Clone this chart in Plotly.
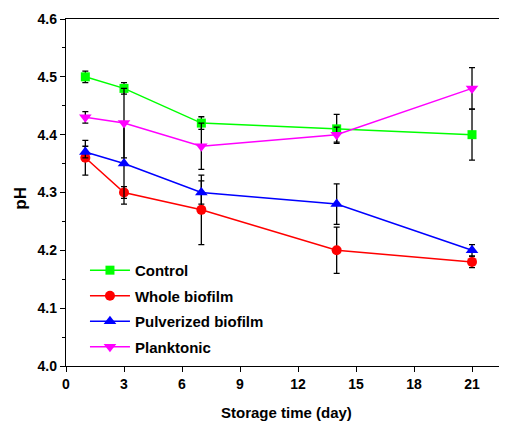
import plotly.graph_objects as go

days = [1, 3, 7, 14, 21]
control = [4.50, 4.48, 4.42, 4.41, 4.40]
control_err = [0.01, 0.01, 0.011, 0.025, 0.044]
whole = [4.36, 4.30, 4.27, 4.20, 4.18]
whole_err = [0.03, 0.01, 0.06, 0.04, 0.01]
pulverized = [4.37, 4.35, 4.30, 4.28, 4.20]
pulverized_err = [0.01, 0.07, 0.02, 0.035, 0.01]
planktonic = [4.43, 4.42, 4.38, 4.40, 4.48]
planktonic_err = [0.01, 0.06, 0.04, 0.013, 0.036]

x_ticks = [0, 3, 6, 9, 12, 15, 18, 21]
y_ticks = [4.0, 4.1, 4.2, 4.3, 4.4, 4.5, 4.6]

series = [
    ("Control", control, control_err, "#00FF00", "square", 9),
    ("Whole biofilm", whole, whole_err, "#FF0000", "circle", 10),
    ("Pulverized biofilm", pulverized, pulverized_err, "#0000FF", "triangle-up", 11),
    ("Planktonic", planktonic, planktonic_err, "#FF00FF", "triangle-down", 11),
]

fig = go.Figure()
for name, vals, errs, color, sym, size in series:
    fig.add_trace(go.Scatter(
        x=days, y=vals, name=name, legendgroup=name, mode="lines+markers",
        line=dict(color=color, width=1.5),
        marker=dict(color=color, symbol=sym, size=size),
        error_y=dict(type="data", array=errs, visible=True, color="black",
                     thickness=1.3, width=3),
    ))

font_family = "Liberation Sans, Arial, sans-serif"
# page body has an 8px margin, so the figure is 499x416 and offset by 8px
fig.update_layout(
    width=499, height=416,
    margin=dict(l=58, r=0, t=11, b=58),
    paper_bgcolor="white", plot_bgcolor="white",
    font=dict(family=font_family, color="black"),
    showlegend=True,
    legend=dict(x=0.043, y=0.323, xanchor="left", yanchor="top",
                bgcolor="rgba(0,0,0,0)", borderwidth=0,
                font=dict(size=15, family=font_family, color="black", weight="bold"),
                tracegroupgap=3, itemwidth=40),
    annotations=[
        dict(text="Storage time (day)", xref="paper", yref="paper",
             x=0.5, y=-0.135, xanchor="center", yanchor="middle", showarrow=False,
             font=dict(size=15, family=font_family, weight="bold")),
        dict(text="pH", xref="paper", yref="paper", textangle=-90,
             x=-0.105, y=0.484, xanchor="center", yanchor="middle", showarrow=False,
             font=dict(size=17, family=font_family, weight="bold")),
    ],
)
fig.update_xaxes(
    range=[0, 22.81], tickvals=x_ticks, ticktext=[str(v) for v in x_ticks],
    automargin=False,
    showline=True, linecolor="black", linewidth=1.3, mirror=True,
    ticks="outside", ticklen=5, tickwidth=1.3, tickcolor="black",
    showgrid=False, zeroline=False,
    tickfont=dict(size=14, family=font_family, weight="bold"),
)
fig.update_yaxes(
    range=[4.0, 4.6], tickvals=y_ticks, ticktext=[f"{v:.1f}" for v in y_ticks],
    automargin=False,
    showline=True, linecolor="black", linewidth=1.3, mirror=False,
    ticks="outside", ticklen=5, tickwidth=1.3, tickcolor="black",
    minor=dict(dtick=0.05, ticks="outside", ticklen=3, tickwidth=1.3, tickcolor="black", showgrid=False),
    showgrid=False, zeroline=False,
    tickfont=dict(size=14, family=font_family, weight="bold"),
)

fig.write_html("out.html")
